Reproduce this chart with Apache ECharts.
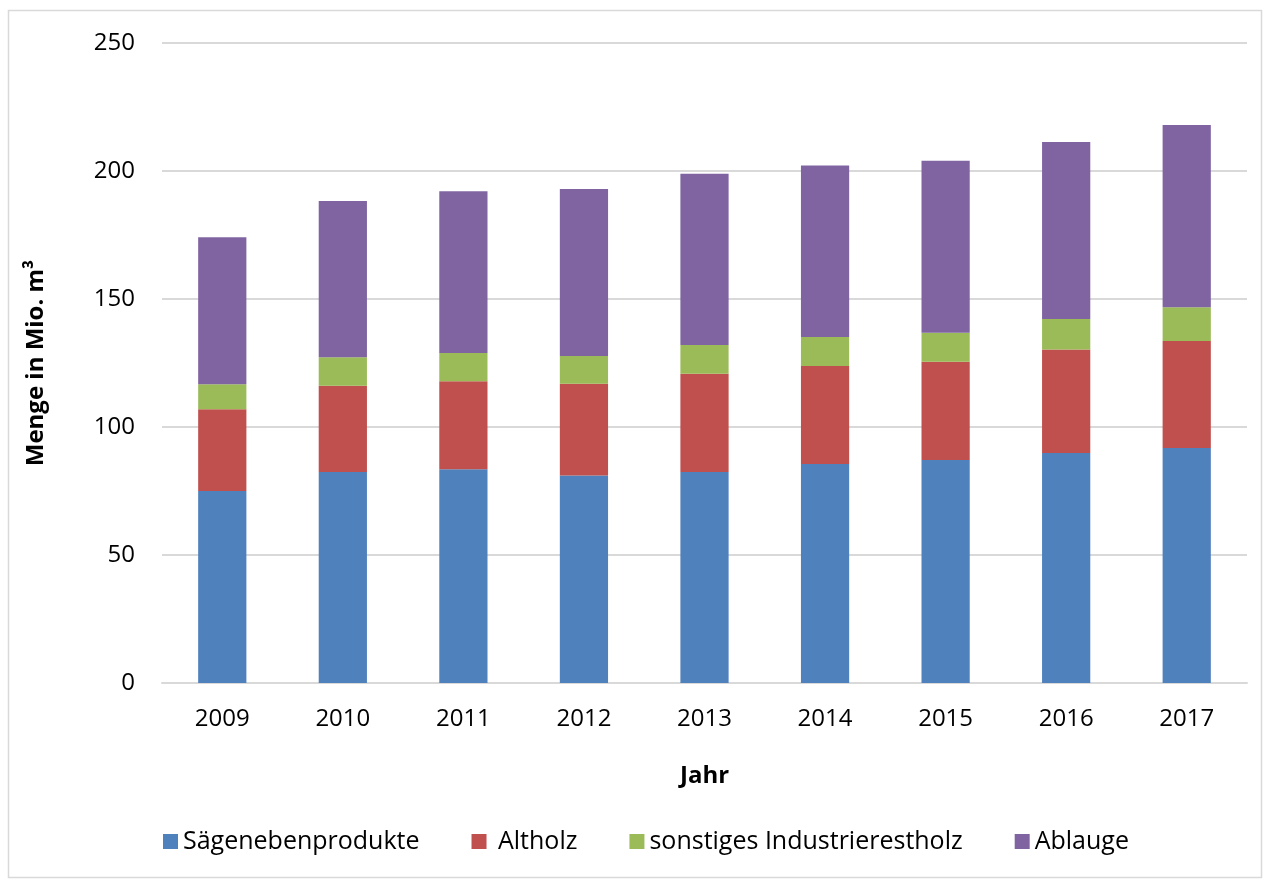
<!DOCTYPE html>
<html>
<head>
<meta charset="utf-8">
<script src="https://cdn.jsdelivr.net/npm/echarts@6/dist/echarts.min.js"></script>
<style>
  html, body { margin: 0; padding: 0; background: #fff; }
  #chart { width: 1263px; height: 879px; }
</style>
</head>
<body>
<div id="chart"></div>
<script>
// Jahre und Werte (Mio. m³)
var years = ['2009', '2010', '2011', '2012', '2013', '2014', '2015', '2016', '2017'];
var saegeneben = [75.0, 82.4, 83.5, 81.1, 82.4, 85.5, 87.1, 89.8, 91.8];
var altholz = [31.9, 33.7, 34.4, 35.8, 38.4, 38.3, 38.4, 40.5, 41.8];
var industrierest = [9.8, 11.1, 11.0, 10.8, 11.2, 11.4, 11.3, 11.9, 13.2];
var ablauge = [57.4, 61.1, 63.2, 65.3, 66.9, 66.9, 67.2, 69.1, 71.2];
var seriesNames = ['Sägenebenprodukte', ' Altholz', 'sonstiges Industrierestholz', 'Ablauge'];
var colors = ['#4f81bd', '#c0504d', '#9bbb59', '#8064a2'];

var font = 'Open Sans, Liberation Sans, sans-serif';
var myChart = echarts.init(document.getElementById('chart'));

function bar(name, data) {
    return {
        name: name,
        type: 'bar',
        stack: 'total',
        barWidth: '40%',
        data: data
    };
}

var option = {
    animation: false,
    color: colors,
    textStyle: { fontFamily: font },
    graphic: [{
        type: 'rect',
        shape: { x: 8.5, y: 10.5, width: 1253, height: 867 },
        style: { fill: 'none', stroke: '#d9d9d9', lineWidth: 1.5 }
    }],
    grid: { left: 162, right: 16, top: 43, bottom: 196 },
    legend: {
        bottom: 20,
        left: 158,
        itemWidth: 15,
        itemHeight: 15,
        itemGap: 52,
        icon: 'rect',
        textStyle: { fontSize: 25, color: '#000', fontFamily: font },
        data: seriesNames
    },
    xAxis: {
        type: 'category',
        data: years,
        name: 'Jahr',
        nameLocation: 'middle',
        nameGap: 81,
        nameTextStyle: { fontSize: 24, fontWeight: 'bold', color: '#000' },
        axisLine: { lineStyle: { color: '#d9d9d9', width: 2 } },
        axisTick: { show: false },
        axisLabel: { fontSize: 24, color: '#000', margin: 24 }
    },
    yAxis: {
        type: 'value',
        min: 0,
        max: 250,
        interval: 50,
        name: 'Menge in Mio. m³',
        nameLocation: 'middle',
        nameGap: 114,
        nameTextStyle: { fontSize: 24, fontWeight: 'bold', color: '#000' },
        axisLine: { show: false },
        axisTick: { show: false },
        axisLabel: { fontSize: 24, color: '#000', margin: 27 },
        splitLine: { lineStyle: { color: '#d9d9d9', width: 2 } }
    },
    series: [
        bar(seriesNames[0], saegeneben),
        bar(seriesNames[1], altholz),
        bar(seriesNames[2], industrierest),
        bar(seriesNames[3], ablauge)
    ]
};

myChart.setOption(option);
</script>
</body>
</html>
